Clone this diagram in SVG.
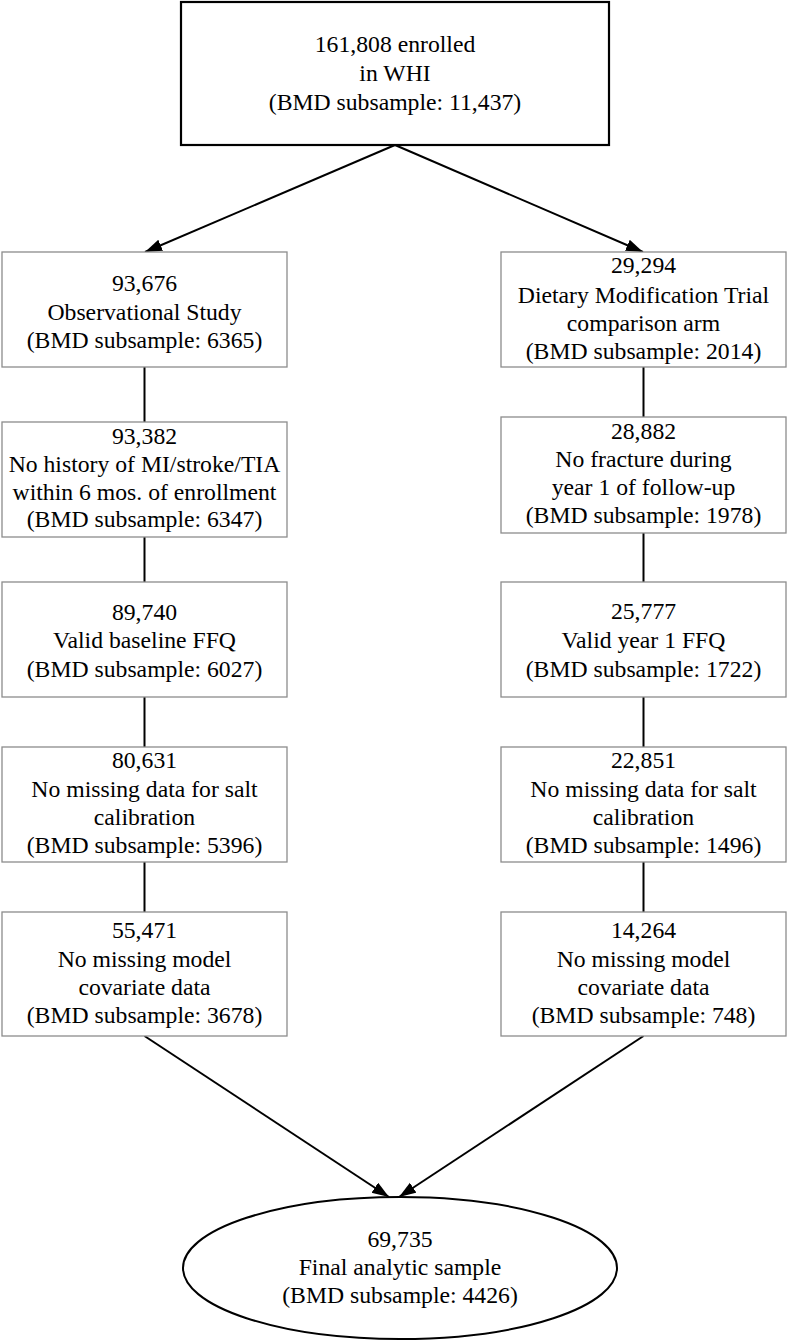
<svg xmlns="http://www.w3.org/2000/svg" width="788" height="1342" viewBox="0 0 788 1342" font-family="'Liberation Serif', 'Times New Roman', 'DejaVu Serif', serif" font-size="23.7">
<style>
  .box { fill: #ffffff; stroke: #8c8c8c; stroke-width: 1.3; }
  .top { fill: #ffffff; stroke: #000000; stroke-width: 2.2; }
  .ell { fill: #ffffff; stroke: #000000; stroke-width: 2; }
  .conn { stroke: #000000; stroke-width: 2; fill: none; }
  .t { font-family: 'Liberation Serif', 'Times New Roman', 'DejaVu Serif', serif; font-size: 23.7px; fill: #000000; text-anchor: middle; }
</style>
<defs>
  <marker id="arrow" markerUnits="userSpaceOnUse" markerWidth="20" markerHeight="14" refX="17" refY="6" orient="auto">
    <path d="M0,0 L17,6 L0,12 Z" fill="#000000"/>
  </marker>
</defs>
<rect width="788" height="1342" fill="#ffffff"/>

<g id="connectors">
  <line class="conn" x1="395" y1="145" x2="145" y2="252" marker-end="url(#arrow)"/>
  <line class="conn" x1="395" y1="145" x2="643" y2="252" marker-end="url(#arrow)"/>
  <line class="conn" x1="144.5" y1="367" x2="144.5" y2="422"/>
  <line class="conn" x1="144.5" y1="537" x2="144.5" y2="582"/>
  <line class="conn" x1="144.5" y1="697" x2="144.5" y2="747"/>
  <line class="conn" x1="144.5" y1="862" x2="144.5" y2="912"/>
  <line class="conn" x1="643.5" y1="367" x2="643.5" y2="417"/>
  <line class="conn" x1="643.5" y1="533" x2="643.5" y2="582"/>
  <line class="conn" x1="643.5" y1="697" x2="643.5" y2="747"/>
  <line class="conn" x1="643.5" y1="862" x2="643.5" y2="912"/>
  <line class="conn" x1="144.5" y1="1036" x2="389" y2="1197" marker-end="url(#arrow)"/>
  <line class="conn" x1="643.5" y1="1036" x2="399" y2="1197" marker-end="url(#arrow)"/>
</g>

<g id="n-top" class="t">
  <rect class="top" x="181" y="2" width="428" height="143"/>
  <text class="t" x="395" y="52">161,808 enrolled</text>
  <text class="t" x="395" y="81">in WHI</text>
  <text class="t" x="395" y="110">(BMD subsample: 11,437)</text>
</g>

<g id="n-l1">
  <rect class="box" x="2" y="252" width="285" height="115"/>
  <text class="t" x="144.5" y="291">93,676</text>
  <text class="t" x="144.5" y="320">Observational Study</text>
  <text class="t" x="144.5" y="348">(BMD subsample: 6365)</text>
</g>
<g id="n-l2">
  <rect class="box" x="2" y="422" width="285" height="115"/>
  <text class="t" x="144.5" y="444">93,382</text>
  <text class="t" x="144.5" y="472">No history of MI/stroke/TIA</text>
  <text class="t" x="144.5" y="500">within 6 mos. of enrollment</text>
  <text class="t" x="144.5" y="527">(BMD subsample: 6347)</text>
</g>
<g id="n-l3">
  <rect class="box" x="2" y="582" width="285" height="115"/>
  <text class="t" x="144.5" y="620">89,740</text>
  <text class="t" x="144.5" y="648">Valid baseline FFQ</text>
  <text class="t" x="144.5" y="677">(BMD subsample: 6027)</text>
</g>
<g id="n-l4">
  <rect class="box" x="2" y="747" width="285" height="115"/>
  <text class="t" x="144.5" y="768">80,631</text>
  <text class="t" x="144.5" y="797">No missing data for salt</text>
  <text class="t" x="144.5" y="825">calibration</text>
  <text class="t" x="144.5" y="853">(BMD subsample: 5396)</text>
</g>
<g id="n-l5">
  <rect class="box" x="2" y="912" width="285" height="124"/>
  <text class="t" x="144.5" y="938">55,471</text>
  <text class="t" x="144.5" y="967">No missing model</text>
  <text class="t" x="144.5" y="995">covariate data</text>
  <text class="t" x="144.5" y="1023">(BMD subsample: 3678)</text>
</g>

<g id="n-r1">
  <rect class="box" x="501" y="252" width="285" height="115"/>
  <text class="t" x="643.5" y="273">29,294</text>
  <text class="t" x="643.5" y="303">Dietary Modification Trial</text>
  <text class="t" x="643.5" y="331">comparison arm</text>
  <text class="t" x="643.5" y="359">(BMD subsample: 2014)</text>
</g>
<g id="n-r2">
  <rect class="box" x="501" y="417" width="285" height="116"/>
  <text class="t" x="643.5" y="439">28,882</text>
  <text class="t" x="643.5" y="467">No fracture during</text>
  <text class="t" x="643.5" y="495">year 1 of follow-up</text>
  <text class="t" x="643.5" y="523">(BMD subsample: 1978)</text>
</g>
<g id="n-r3">
  <rect class="box" x="501" y="582" width="285" height="115"/>
  <text class="t" x="643.5" y="619">25,777</text>
  <text class="t" x="643.5" y="648">Valid year 1 FFQ</text>
  <text class="t" x="643.5" y="677">(BMD subsample: 1722)</text>
</g>
<g id="n-r4">
  <rect class="box" x="501" y="747" width="285" height="115"/>
  <text class="t" x="643.5" y="768">22,851</text>
  <text class="t" x="643.5" y="797">No missing data for salt</text>
  <text class="t" x="643.5" y="825">calibration</text>
  <text class="t" x="643.5" y="853">(BMD subsample: 1496)</text>
</g>
<g id="n-r5">
  <rect class="box" x="501" y="912" width="285" height="124"/>
  <text class="t" x="643.5" y="938">14,264</text>
  <text class="t" x="643.5" y="967">No missing model</text>
  <text class="t" x="643.5" y="995">covariate data</text>
  <text class="t" x="643.5" y="1023">(BMD subsample: 748)</text>
</g>

<g id="n-final">
  <ellipse class="ell" cx="400" cy="1268" rx="217" ry="71"/>
  <text class="t" x="400" y="1247">69,735</text>
  <text class="t" x="400" y="1275">Final analytic sample</text>
  <text class="t" x="400" y="1303">(BMD subsample: 4426)</text>
</g>
</svg>
